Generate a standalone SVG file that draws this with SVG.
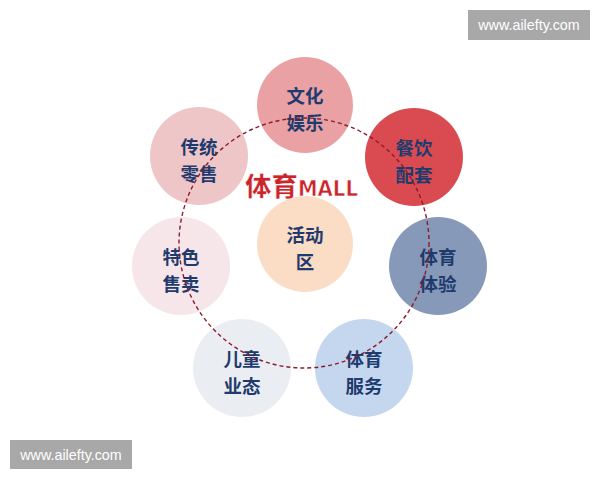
<svg xmlns="http://www.w3.org/2000/svg" width="600" height="480" viewBox="0 0 600 480">
<style>
.lbl{font-family:"Noto Sans CJK SC","Noto Sans",sans-serif;font-weight:bold;font-size:18.5px;fill:#1f3b6e;text-anchor:middle}
.wm{font-family:"Liberation Sans",Arial,sans-serif;font-size:14.3px;fill:#ffffff;text-anchor:middle}
</style>
<rect width="600" height="480" fill="#ffffff"/>
<g id="node-wenhua"><circle cx="305" cy="105" r="48" fill="#e9a1a4"/><text class="lbl" x="305" y="103">文化</text><text class="lbl" x="305" y="130">娱乐</text></g>
<g id="node-chuantong"><circle cx="199" cy="156" r="49" fill="#eec6c8"/><text class="lbl" x="199" y="154">传统</text><text class="lbl" x="199" y="181">零售</text></g>
<g id="node-canyin"><circle cx="414" cy="157" r="49" fill="#d94b50"/><text class="lbl" x="414" y="155">餐饮</text><text class="lbl" x="414" y="182">配套</text></g>
<g id="node-huodong"><circle cx="305" cy="244" r="48" fill="#fbdcc4"/><text class="lbl" x="305" y="242">活动</text><text class="lbl" x="305" y="269">区</text></g>
<g id="node-tese"><circle cx="181" cy="266" r="49" fill="#f6e6ea"/><text class="lbl" x="181" y="264">特色</text><text class="lbl" x="181" y="291">售卖</text></g>
<g id="node-tiyan"><circle cx="438" cy="266" r="49" fill="#8699b8"/><text class="lbl" x="438" y="264">体育</text><text class="lbl" x="438" y="291">体验</text></g>
<g id="node-ertong"><circle cx="242" cy="368" r="49" fill="#eaedf2"/><text class="lbl" x="242" y="366">儿童</text><text class="lbl" x="242" y="393">业态</text></g>
<g id="node-fuwu"><circle cx="364" cy="368" r="49" fill="#c5d7ef"/><text class="lbl" x="364" y="366">体育</text><text class="lbl" x="364" y="393">服务</text></g>
<g id="connectors"><circle cx="304" cy="243" r="125" fill="none" stroke="#8e1a2a" stroke-width="1.4" stroke-dasharray="4 3"/></g>
<g id="title"><text x="245" y="196" fill="#c9252b" stroke="#ffffff" stroke-width="0.6"><tspan font-family="Noto Sans CJK SC,sans-serif" font-weight="900" font-size="26.5">体育</tspan><tspan font-family="DejaVu Sans,sans-serif" font-weight="bold" font-size="21" textLength="60" lengthAdjust="spacingAndGlyphs">MALL</tspan></text></g>
<g id="watermark-top"><rect x="468" y="10" width="122" height="30" fill="#a8a8a8"/><text class="wm" x="529" y="30">www.ailefty.com</text></g>
<g id="watermark-bottom"><rect x="10" y="440" width="122" height="29" fill="#a8a8a8"/><text class="wm" x="71" y="459.500">www.ailefty.com</text></g>
</svg>
